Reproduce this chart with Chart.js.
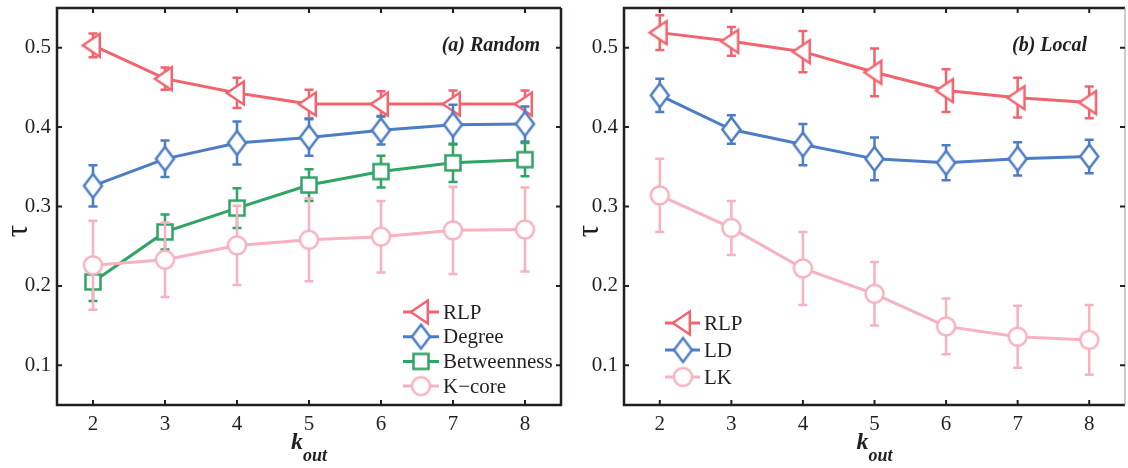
<!DOCTYPE html>
<html>
<head>
<meta charset="utf-8">
<script src="https://cdn.jsdelivr.net/npm/chart.js@4/dist/chart.umd.min.js"></script>
<style>
  body { margin: 0; background: #fff; }
  .panel { position: absolute; top: 0; }
</style>
</head>
<body>
<canvas id="chartA" class="panel" width="564" height="468" style="left:0"></canvas>
<canvas id="chartB" class="panel" width="564" height="468" style="left:564px"></canvas>
<script>
// x values and tick labels shared by both panels
var kOut = [2, 3, 4, 5, 6, 7, 8];
var xTicks = [2, 3, 4, 5, 6, 7, 8];
var yTicks = [0.1, 0.2, 0.3, 0.4, 0.5];

// (a) Random
var rlpRandom = [0.503, 0.461, 0.443, 0.429, 0.429, 0.429, 0.429];
var rlpRandomErr = [0.015, 0.014, 0.019, 0.018, 0.016, 0.017, 0.017];
var degree = [0.326, 0.360, 0.380, 0.387, 0.396, 0.403, 0.404];
var degreeErr = [0.026, 0.023, 0.027, 0.023, 0.018, 0.025, 0.022];
var betweenness = [0.205, 0.268, 0.298, 0.327, 0.344, 0.355, 0.359];
var betweennessErr = [0.024, 0.022, 0.025, 0.020, 0.020, 0.024, 0.021];
var kcore = [0.226, 0.233, 0.251, 0.258, 0.262, 0.270, 0.271];
var kcoreErr = [0.056, 0.047, 0.050, 0.052, 0.045, 0.055, 0.053];

// (b) Local
var rlpLocal = [0.519, 0.508, 0.495, 0.469, 0.446, 0.437, 0.431];
var rlpLocalErr = [0.022, 0.018, 0.026, 0.030, 0.027, 0.025, 0.020];
var ld = [0.440, 0.397, 0.378, 0.360, 0.355, 0.360, 0.363];
var ldErr = [0.021, 0.018, 0.026, 0.027, 0.022, 0.021, 0.021];
var lk = [0.314, 0.273, 0.222, 0.190, 0.149, 0.136, 0.132];
var lkErr = [0.046, 0.034, 0.046, 0.040, 0.035, 0.039, 0.044];

var RED = '#F0646E', BLUE = '#4C7DC4', GREEN = '#2FA464', PINK = '#F6B2BF';
var INK = '#231F20';
var SERIF = '"Liberation Serif", "Times New Roman", serif';

// hollow (white filled) marker drawn once into a small canvas, used as pointStyle
function makeMarker(shape, color, w, h) {
    var lw = 2.5;
    var c = document.createElement('canvas');
    var shift = shape == 'triangleLeft' ? w * 0.1 : 0;
    c.width = Math.ceil(w + 2 * shift + lw * 2 + 2);
    c.height = Math.ceil(h + lw * 2 + 2);
    var g = c.getContext('2d');
    var cx = c.width / 2, cy = c.height / 2;
    g.beginPath();
    if (shape == 'triangleLeft') {
        g.moveTo(cx - w * 0.6, cy);
        g.lineTo(cx + w * 0.4, cy - h / 2);
        g.lineTo(cx + w * 0.4, cy + h / 2);
        g.closePath();
    } else if (shape == 'diamond') {
        g.moveTo(cx, cy - h / 2);
        g.lineTo(cx + w / 2, cy);
        g.lineTo(cx, cy + h / 2);
        g.lineTo(cx - w / 2, cy);
        g.closePath();
    } else if (shape == 'square') {
        g.rect(cx - w / 2, cy - h / 2, w, h);
    } else {
        g.ellipse(cx, cy, w / 2, h / 2, 0, 0, Math.PI * 2);
    }
    g.fillStyle = '#fff';
    g.fill();
    g.lineWidth = lw;
    g.strokeStyle = color;
    g.stroke();
    return c;
}

var markRLP = makeMarker('triangleLeft', RED, 17, 23);
var markDeg = makeMarker('diamond', BLUE, 18, 24);
var markBet = makeMarker('square', GREEN, 15, 15);
var markK = makeMarker('circle', PINK, 18, 18);

function series(label, values, errors, color, marker, order) {
    return {
        label: label,
        data: values.map(function (v, i) { return { x: kOut[i], y: v }; }),
        errors: errors,
        borderColor: color,
        backgroundColor: color,
        borderWidth: 3,
        pointStyle: marker,
        pointRadius: 9,
        order: order
    };
}

// vertical error bars, drawn under each dataset's own line and markers
var errorBars = {
    id: 'errorBars',
    beforeDatasetDraw: function (chart, args) {
        var ds = chart.data.datasets[args.index];
        var yScale = chart.scales.y, xScale = chart.scales.x;
        var ctx = chart.ctx;
        ctx.save();
        ctx.strokeStyle = ds.borderColor;
        ctx.lineWidth = 2.5;
        ds.data.forEach(function (p, i) {
            var x = xScale.getPixelForValue(p.x);
            var top = yScale.getPixelForValue(p.y + ds.errors[i]);
            var bot = yScale.getPixelForValue(p.y - ds.errors[i]);
            ctx.beginPath();
            ctx.moveTo(x, top); ctx.lineTo(x, bot);
            ctx.moveTo(x - 4.5, top); ctx.lineTo(x + 4.5, top);
            ctx.moveTo(x - 4.5, bot); ctx.lineTo(x + 4.5, bot);
            ctx.stroke();
        });
        ctx.restore();
    }
};

// box with inward ticks, tau label, k_out label, panel title and legend
var panelDecor = {
    id: 'panelDecor',
    afterDraw: function (chart, args, opts) {
        var ctx = chart.ctx, a = chart.chartArea;
        var xs = chart.scales.x, ys = chart.scales.y;
        ctx.save();
        ctx.strokeStyle = INK;
        ctx.lineWidth = 2.5;
        ctx.beginPath();
        ctx.moveTo(a.right, a.top); ctx.lineTo(a.left, a.top);
        ctx.lineTo(a.left, a.bottom); ctx.lineTo(a.right, a.bottom);
        if (!opts.thinRight) ctx.lineTo(a.right, a.top);
        ctx.stroke();
        if (opts.thinRight) {
            ctx.strokeStyle = '#9a9a9a';
            ctx.lineWidth = 1;
            ctx.beginPath();
            ctx.moveTo(a.right, a.top); ctx.lineTo(a.right, a.bottom);
            ctx.stroke();
            ctx.strokeStyle = INK;
        }
        ctx.lineWidth = 2;
        ctx.beginPath();
        xTicks.forEach(function (v) {
            var x = xs.getPixelForValue(v);
            ctx.moveTo(x, a.bottom); ctx.lineTo(x, a.bottom - 5);
            ctx.moveTo(x, a.top); ctx.lineTo(x, a.top + 5);
        });
        yTicks.forEach(function (v) {
            var y = ys.getPixelForValue(v);
            ctx.moveTo(a.left, y); ctx.lineTo(a.left + 5, y);
            ctx.moveTo(a.right, y); ctx.lineTo(a.right - 5, y);
        });
        ctx.stroke();

        ctx.fillStyle = INK;
        // tau
        ctx.save();
        ctx.translate(opts.tauX, 231);
        ctx.rotate(-Math.PI / 2);
        ctx.font = '31px ' + SERIF;
        ctx.textAlign = 'center';
        ctx.textBaseline = 'middle';
        ctx.fillText('τ', 0, 0);
        ctx.restore();

        // k_out
        var cx = (a.left + a.right) / 2;
        ctx.font = 'bold italic 24px ' + SERIF;
        var wk = ctx.measureText('k').width;
        ctx.font = 'bold italic 18px ' + SERIF;
        var wo = ctx.measureText('out').width;
        var x0 = cx - (wk + wo) / 2;
        ctx.textAlign = 'left';
        ctx.textBaseline = 'alphabetic';
        ctx.font = 'bold italic 24px ' + SERIF;
        ctx.fillText('k', x0, 449);
        ctx.font = 'bold italic 18px ' + SERIF;
        ctx.fillText('out', x0 + wk, 461);

        // panel title
        ctx.font = 'bold italic 20px ' + SERIF;
        ctx.textAlign = 'right';
        ctx.textBaseline = 'middle';
        ctx.fillText(opts.title, opts.titleRight, 46);

        // legend
        ctx.font = '21px ' + SERIF;
        ctx.textAlign = 'left';
        opts.legend.forEach(function (item, i) {
            var y = opts.legendY + i * opts.legendStep;
            var ds = chart.data.datasets[item];
            ctx.strokeStyle = ds.borderColor;
            ctx.lineWidth = 3;
            ctx.beginPath();
            ctx.moveTo(opts.legendX1, y); ctx.lineTo(opts.legendX2, y);
            ctx.stroke();
            var m = ds.pointStyle;
            ctx.drawImage(m, opts.legendMid - m.width / 2, y - m.height / 2);
            ctx.fillStyle = INK;
            ctx.fillText(ds.label, opts.legendText, y + 1);
        });
        ctx.restore();
    }
};

function panelOptions(yWidth, decor) {
    var tickFont = { family: SERIF, size: 21 };
    return {
        responsive: false,
        animation: false,
        layout: { autoPadding: false, padding: { top: 8, right: 3, left: 0, bottom: 0 } },
        plugins: { legend: { display: false }, tooltip: { enabled: false }, panelDecor: decor },
        scales: {
            x: {
                type: 'linear', min: 1.5, max: 8.5,
                grid: { display: false, drawTicks: false },
                border: { display: false },
                ticks: { font: tickFont, color: INK, padding: 7, maxRotation: 0 },
                afterBuildTicks: function (s) { s.ticks = xTicks.map(function (v) { return { value: v }; }); },
                afterFit: function (s) { s.height = 63; s.paddingLeft = 0; s.paddingRight = 0; }
            },
            y: {
                type: 'linear', min: 0.05, max: 0.55,
                grid: { display: false, drawTicks: false },
                border: { display: false },
                ticks: { font: tickFont, color: INK, padding: 6, callback: function (v) { return v.toFixed(1); } },
                afterBuildTicks: function (s) { s.ticks = yTicks.map(function (v) { return { value: v }; }); },
                afterFit: function (s) { s.width = yWidth; s.paddingTop = 0; s.paddingBottom = 0; }
            }
        }
    };
}

// higher order is drawn first, so K-core / LK end up on top
new Chart(document.getElementById('chartA'), {
    type: 'line',
    data: {
        datasets: [
            series('RLP', rlpRandom, rlpRandomErr, RED, markRLP, 3),
            series('Degree', degree, degreeErr, BLUE, markDeg, 2),
            series('Betweenness', betweenness, betweennessErr, GREEN, markBet, 1),
            series('K\u2212core', kcore, kcoreErr, PINK, markK, 0)
        ]
    },
    options: panelOptions(57, {
        title: '(a) Random', titleRight: 540, tauX: 19,
        legend: [0, 1, 2, 3], legendY: 312, legendStep: 24.7,
        legendX1: 403, legendX2: 439, legendMid: 421, legendText: 443
    }),
    plugins: [errorBars, panelDecor]
});

new Chart(document.getElementById('chartB'), {
    type: 'line',
    data: {
        datasets: [
            series('RLP', rlpLocal, rlpLocalErr, RED, markRLP, 2),
            series('LD', ld, ldErr, BLUE, markDeg, 1),
            series('LK', lk, lkErr, PINK, markK, 0)
        ]
    },
    options: panelOptions(60, {
        title: '(b) Local', titleRight: 523, tauX: 26, thinRight: true,
        legend: [0, 1, 2], legendY: 323, legendStep: 27,
        legendX1: 101, legendX2: 136, legendMid: 119, legendText: 140
    }),
    plugins: [errorBars, panelDecor]
});
</script>
</body>
</html>
